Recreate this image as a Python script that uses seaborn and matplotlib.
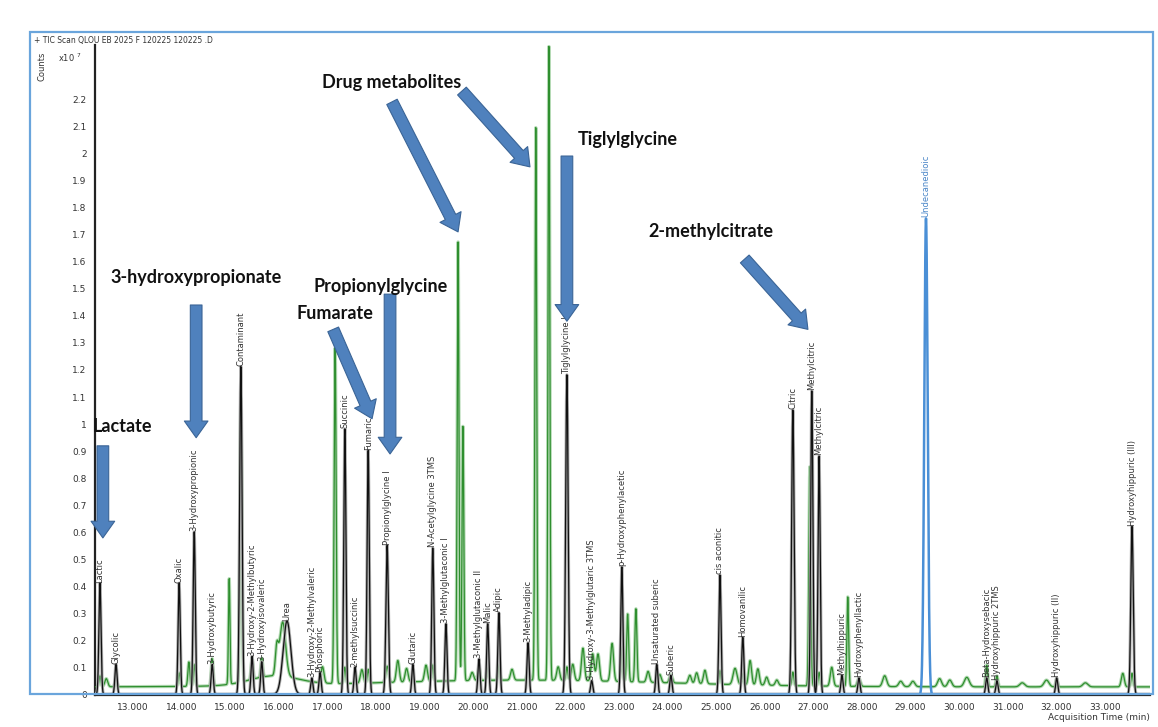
import numpy as np
import pandas as pd
import matplotlib
matplotlib.use("Agg")
import matplotlib.pyplot as plt
import seaborn as sns
from matplotlib.patches import Rectangle

# ---------------- data ----------------
# labelled (black) trace peaks: retention time (min), apex height (x10^7 counts)
peak_names = ["Lactic", "Glycolic", "Oxalic", "3-Hydroxypropionic", "3-Hydroxybutyric",
              "Contaminant", "3-Hydroxy-2-Methylbutyric", "3-Hydroxyisovaleric", "Urea",
              "3-Hydroxy-2-Methylvaleric", "Phosphoric", "Succinic", "2-methylsuccinic",
              "Fumaric", "Propionylglycine I", "Glutaric", "N-Acetylglycine 3TMS",
              "3-Methylglutaconic I", "3-Methylglutaconic II", "Malic", "Adipic",
              "3-Methyladipic", "Tiglylglycine I", "3-Hydroxy-3-Methylglutaric 3TMS",
              "p-Hydroxyphenylacetic", "Unsaturated suberic", "Suberic", "cis aconitic",
              "Homovanilic", "Citric", "Methylcitric", "Methylcitric", "Methylhippuric",
              "Hydroxyphenyllactic", "Beta-Hydroxysebacic", "Hydroxyhippuric 2TMS",
              "Hydroxyhippuric (II)", "Hydroxyhippuric (III)"]
peak_times = [12.32, 12.65, 13.95, 14.26, 14.63, 15.22, 15.45, 15.65, 16.17, 16.68, 16.85,
              17.36, 17.57, 17.84, 18.23, 18.76, 19.17, 19.44, 20.12, 20.30, 20.53, 21.13,
              21.93, 22.44, 23.06, 23.78, 24.07, 25.08, 25.55, 26.58, 26.97, 27.12, 27.59,
              27.94, 30.57, 30.78, 32.01, 33.56]
peak_heights = [0.41, 0.11, 0.41, 0.60, 0.11, 1.21, 0.14, 0.12, 0.27, 0.06, 0.08,
                0.98, 0.10, 0.90, 0.55, 0.11, 0.54, 0.26, 0.13, 0.26, 0.30, 0.19,
                1.18, 0.05, 0.47, 0.11, 0.07, 0.44, 0.21, 1.05, 1.12, 0.88, 0.07,
                0.06, 0.06, 0.05, 0.06, 0.62]
peak_widths = [0.022, 0.022, 0.022, 0.022, 0.022, 0.025, 0.022, 0.022, 0.08, 0.022, 0.022,
               0.022, 0.022, 0.022, 0.025, 0.022, 0.022, 0.022, 0.022, 0.022, 0.022, 0.022,
               0.025, 0.022, 0.022, 0.022, 0.022, 0.022, 0.022, 0.025, 0.022, 0.022, 0.022,
               0.022, 0.022, 0.022, 0.022, 0.025]
black_baseline = 0.003

# overlaid (green) trace peaks
green_times = [12.32, 12.45, 12.65, 13.95, 14.15, 14.26, 14.63, 14.98, 15.22, 15.45, 15.65,
               15.96, 16.08, 16.90, 17.16, 17.36, 17.71, 17.84, 18.23, 18.45, 18.63, 19.03,
               19.17, 19.69, 19.79, 19.98, 20.12, 20.30, 20.53, 20.80, 21.13, 21.29, 21.56,
               21.75, 21.93, 22.05, 22.26, 22.46, 22.57, 22.86, 23.06, 23.18, 23.35, 23.60,
               23.84, 24.07, 24.46, 24.60, 24.77, 25.08, 25.39, 25.55, 25.70, 25.86, 26.04,
               26.25, 26.58, 26.93, 27.12, 27.38, 27.71, 27.94, 28.47, 28.80, 29.05, 29.60,
               29.81, 30.16, 30.57, 30.78, 31.30, 31.80, 32.01, 32.60, 33.37, 33.56]
green_heights = [0.04, 0.03, 0.03, 0.05, 0.09, 0.08, 0.10, 0.39, 1.05, 0.08, 0.07,
                 0.10, 0.20, 0.06, 1.24, 0.06, 0.05, 0.05, 0.06, 0.08, 0.05, 0.06,
                 0.06, 1.62, 0.94, 0.03, 0.05, 0.06, 0.06, 0.04, 0.06, 2.04, 2.34,
                 0.05, 0.05, 0.06, 0.12, 0.10, 0.10, 0.14, 0.16, 0.25, 0.27, 0.04,
                 0.03, 0.03, 0.03, 0.04, 0.05, 0.05, 0.06, 0.05, 0.09, 0.06, 0.03,
                 0.02, 0.05, 0.81, 0.05, 0.07, 0.33, 0.03, 0.04, 0.02, 0.02, 0.03,
                 0.025, 0.035, 0.08, 0.04, 0.015, 0.025, 0.03, 0.015, 0.05, 0.05]
green_widths = [0.02, 0.03, 0.02, 0.02, 0.02, 0.02, 0.02, 0.015, 0.02, 0.02, 0.02,
                0.03, 0.06, 0.03, 0.02, 0.02, 0.03, 0.02, 0.03, 0.03, 0.03, 0.03,
                0.02, 0.018, 0.018, 0.03, 0.02, 0.02, 0.02, 0.03, 0.02, 0.018, 0.018,
                0.03, 0.02, 0.03, 0.03, 0.03, 0.03, 0.03, 0.02, 0.02, 0.02, 0.03,
                0.03, 0.03, 0.03, 0.03, 0.03, 0.02, 0.04, 0.02, 0.03, 0.03, 0.03,
                0.03, 0.02, 0.02, 0.02, 0.03, 0.018, 0.03, 0.04, 0.04, 0.04, 0.04,
                0.04, 0.05, 0.02, 0.02, 0.05, 0.05, 0.02, 0.05, 0.03, 0.02]
green_baseline = 0.03
green_humps_t = [15.9, 21.0]
green_humps_h = [0.035, 0.025]
green_humps_w = [0.5, 3.0]

# internal standard (blue) trace
std_name = "Undecanedioic"
std_time = 29.32
std_height = 1.76
std_width = 0.035

# annotations: text, text position (time, height), arrow start, arrow tip
note_texts = ["Lactate", "3-hydroxypropionate", "Fumarate", "Propionylglycine",
              "Drug metabolites", "Tiglylglycine", "2-methylcitrate"]
note_xy = [(12.17, 0.99), (14.30, 1.54), (17.16, 1.41), (18.10, 1.51),
           (18.33, 2.26), (23.19, 2.05), (24.89, 1.71)]
arrow_from = [(12.38, 0.92), (14.30, 1.44), (17.12, 1.35), (18.29, 1.48),
              (18.33, 2.19), (19.77, 2.23), (21.93, 1.99), (25.59, 1.61)]
arrow_to = [(12.38, 0.58), (14.30, 0.95), (17.92, 1.02), (18.29, 0.89),
            (19.69, 1.71), (21.17, 1.95), (21.93, 1.38), (26.89, 1.35)]

x_ticks = list(range(13, 34))
y_ticks = [round(0.1 * i, 1) for i in range(0, 24)]

# ---------------- build traces ----------------
W, H = 1158, 727
x_min, x_max = 12.218, 33.93
t = np.linspace(x_min, x_max, 9000)


def trace(times, heights, widths, base):
    y = np.full_like(t, base)
    for ti, hi, wi in zip(times, heights, widths):
        y += hi * np.exp(-0.5 * ((t - ti) / wi) ** 2)
    return y


black = trace(peak_times, peak_heights, peak_widths, black_baseline)
green = trace(green_times, green_heights, green_widths, green_baseline)
green += trace(green_humps_t, green_humps_h, green_humps_w, 0.0)
blue = trace([std_time], [std_height], [std_width], 0.0)

df = pd.concat([
    pd.DataFrame({"time": t, "counts": green, "trace": "green"}),
    pd.DataFrame({"time": t, "counts": black, "trace": "black"}),
    pd.DataFrame({"time": t, "counts": blue, "trace": "blue"}),
])

# ---------------- plot ----------------
sns.set_style("white")
plt.rcParams["font.family"] = ["DejaVu Sans"]

fig = plt.figure(figsize=(W / 100, H / 100), dpi=100)
ax = fig.add_axes([95 / W, (H - 695) / H, (1150 - 95) / W, (695 - 45) / H])

g = df[df.trace == "green"]
k = df[df.trace == "black"]
b = df[df.trace == "blue"]
sns.lineplot(data=g, x="time", y="counts", ax=ax, color="#b5dab5", lw=2.4,
             estimator=None, sort=False, zorder=2)
sns.lineplot(data=g, x="time", y="counts", ax=ax, color="#2f8f2f", lw=0.9,
             estimator=None, sort=False, zorder=3)
sns.lineplot(data=k, x="time", y="counts", ax=ax, color="#b0b0b0", lw=2.2,
             estimator=None, sort=False, zorder=4)
sns.lineplot(data=k, x="time", y="counts", ax=ax, color="#111111", lw=0.9,
             estimator=None, sort=False, zorder=5)
sns.lineplot(data=b, x="time", y="counts", ax=ax, color="#4a8fd6", lw=1.8,
             estimator=None, sort=False, zorder=5)

ax.set_xlim(x_min, x_max)
ax.set_ylim(0, 2.4)
ax.set_xlabel("")
ax.set_ylabel("")
ax.set_xticks(x_ticks)
ax.set_xticklabels([f"{v:.3f}" for v in x_ticks], fontsize=6.5, color="#333333")
ax.set_yticks(y_ticks)
ax.set_yticklabels([(f"{v:g}" if v <= 2.2 else "") for v in y_ticks], fontsize=6.5,
                   color="#333333")
ax.tick_params(axis="both", direction="out", length=4, width=1, color="#222222", pad=2)
for s in ["top", "right"]:
    ax.spines[s].set_visible(False)
for s in ["left", "bottom"]:
    ax.spines[s].set_color("#222222")
    ax.spines[s].set_linewidth(1.6)
ax.set_facecolor("white")

# peak labels
for name, ti, hi in zip(peak_names, peak_times, peak_heights):
    ax.text(ti, hi + 0.005, name, rotation=90, ha="center", va="bottom",
            fontsize=6, color="#333333", zorder=6)
ax.text(std_time, std_height + 0.005, std_name, rotation=90, ha="center", va="bottom",
        fontsize=6, color="#4a86c8", zorder=6)

# annotation arrows and texts
for (x0, y0), (x1, y1) in zip(arrow_from, arrow_to):
    ax.annotate("", xy=(x1, y1), xytext=(x0, y0),
                arrowprops=dict(arrowstyle="simple,head_length=0.6,head_width=0.85,tail_width=0.42",
                                fc="#4f81bd", ec="#3a6496", lw=0.8,
                                shrinkA=0, shrinkB=0, mutation_scale=20),
                zorder=7, annotation_clip=False)
for txt, (x0, y0) in zip(note_texts, note_xy):
    ha = "left" if txt == "Lactate" else "center"
    ax.text(x0, y0, txt, ha=ha, va="center", fontsize=13, fontweight="bold",
            family=["Lato", "DejaVu Sans"], color="#111111", zorder=8, clip_on=False)

# frame, header and axis captions
fig.add_artist(Rectangle((30 / W, (H - 694) / H), (1153 - 30) / W, (694 - 32) / H,
                         transform=fig.transFigure, fill=False, ec="#6aa5dc", lw=1.6))
fig.text(34 / W, 1 - 40 / H, "+ TIC Scan QLOU EB 2025 F 120225 120225 .D",
         fontsize=5.5, color="#333333", va="center", ha="left")
fig.text(42 / W, 1 - 66 / H, "Counts", rotation=90, fontsize=6, color="#333333",
         va="center", ha="center")
fig.text(58 / W, 1 - 58 / H, r"x10 $^{7}$", fontsize=6, color="#333333",
         va="center", ha="left")
fig.text(1150 / W, 1 - 718 / H, "Acquisition Time (min)", fontsize=6.5, color="#333333",
         va="center", ha="right")

fig.savefig("out.png", dpi=100, facecolor="white")
